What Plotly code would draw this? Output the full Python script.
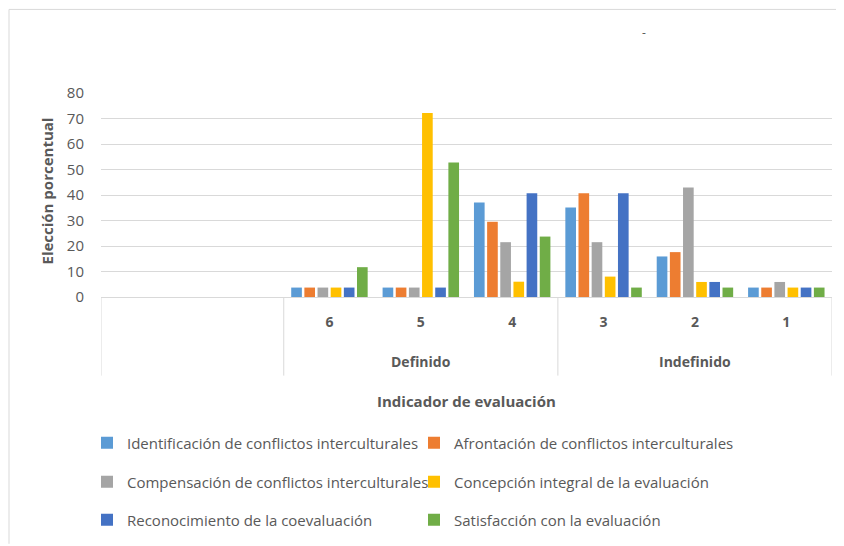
import plotly.graph_objects as go

categories = ["6", "5", "4", "3", "2", "1"]
groups = ["Definido", "Definido", "Definido", "Indefinido", "Indefinido", "Indefinido"]
series_names = [
    "Identificación de conflictos interculturales",
    "Afrontación de conflictos interculturales",
    "Compensación de conflictos interculturales",
    "Concepción integral de la evaluación",
    "Reconocimiento de la coevaluación",
    "Satisfacción con la evaluación",
]
identificacion = [3.7, 3.7, 37.1, 35.1, 15.9, 3.7]
afrontacion = [3.7, 3.7, 29.5, 40.7, 17.6, 3.7]
compensacion = [3.7, 3.7, 21.5, 21.5, 42.9, 5.9]
concepcion = [3.7, 72.2, 6.0, 8.0, 5.9, 3.7]
reconocimiento = [3.7, 3.7, 40.7, 40.7, 5.9, 3.7]
satisfaccion = [11.7, 52.7, 23.7, 3.7, 3.7, 3.7]
series_values = [identificacion, afrontacion, compensacion, concepcion, reconocimiento, satisfaccion]
colors = ["#5B9BD5", "#ED7D31", "#A5A5A5", "#FFC000", "#4472C4", "#70AD47"]
legend_ids = ["legend", "legend", "legend2", "legend2", "legend3", "legend3"]

FONT = "Open Sans"
GRAY = "#595959"
LINE = "#D9D9D9"

fig = go.Figure()
for name, vals, col, lg in zip(series_names, series_values, colors, legend_ids):
    fig.add_trace(go.Bar(x=categories, y=vals, name=name, marker=dict(color=col, line=dict(width=0)),
                         legend=lg))

# page body has an 8px margin; work in page pixels and convert
OFF = 8
W, H = 844 - OFF, 546 - OFF
L = 101 - OFF
T = 93 - OFF
B = H - (298 - OFF)
R = W - (832 - OFF)
pw, ph = W - L - R, H - T - B


def px_x(p):
    return (p - OFF - L) / pw


def px_y(p):
    return (H - B - (p - OFF)) / ph


legend_common = dict(orientation="h", xanchor="left", yanchor="middle", entrywidth=282,
                     font=dict(family=FONT, size=15, color=GRAY), bgcolor="rgba(0,0,0,0)",
                     itemwidth=30, tracegroupgap=0)
fig.update_layout(
    width=W, height=H,
    margin=dict(l=L, r=R, t=T, b=B),
    paper_bgcolor="white", plot_bgcolor="white",
    barmode="group", bargap=0.136, bargroupgap=0.19,
    font=dict(family=FONT, color=GRAY, size=13),
    legend=dict(x=px_x(87), y=px_y(443), **legend_common),
    legend2=dict(x=px_x(87), y=px_y(482), **legend_common),
    legend3=dict(x=px_x(87), y=px_y(520), **legend_common),
    xaxis=dict(type="category", range=[-2.5, len(categories) - 0.5], showgrid=False,
               showline=True, linecolor=LINE, linewidth=1, ticks="",
               tickfont=dict(family=FONT, size=14, color=GRAY, weight="bold"),
               ticklabelstandoff=12, fixedrange=True),
    yaxis=dict(range=[0, 80], dtick=10, showgrid=True, gridcolor=LINE, gridwidth=1,
               zeroline=False, showline=False, ticks="",
               tickfont=dict(family=FONT, size=15, color=GRAY), ticklabelstandoff=16),
    showlegend=True,
)

# group labels and dividers of the multi-level category axis
box_bottom = px_y(377)
uniq = []
for g in groups:
    if g not in uniq:
        uniq.append(g)
for g in uniq:
    idx = [i for i, gg in enumerate(groups) if gg == g]
    fig.add_annotation(x=(idx[0] + idx[-1]) / 2, xref="x", y=px_y(363), yref="paper",
                       text=g, showarrow=False, yanchor="middle",
                       font=dict(family=FONT, size=14, color=GRAY, weight="bold"))
boundaries = [-2.5, -0.5]
for g in uniq:
    idx = [i for i, gg in enumerate(groups) if gg == g]
    boundaries.append(idx[-1] + 0.5)
for bx in boundaries:
    fig.add_shape(type="line", xref="x", yref="paper", x0=bx, x1=bx, y0=0, y1=box_bottom,
                  line=dict(color=LINE, width=1))

fig.add_annotation(x=0.5, xref="paper", y=px_y(403), yref="paper", text="Indicador de evaluación",
                   showarrow=False, yanchor="middle",
                   font=dict(family=FONT, size=15, color=GRAY, weight="bold"))
fig.add_annotation(x=px_x(47), xref="paper", y=px_y(192), yref="paper", text="Elección porcentual",
                   showarrow=False, textangle=-90, xanchor="center", yanchor="middle",
                   font=dict(family=FONT, size=15, color=GRAY, weight="bold"))
fig.add_annotation(x=px_x(648), xref="paper", y=px_y(22), yref="paper", text="-",
                   showarrow=False, font=dict(family=FONT, size=12, color=GRAY))

# outer chart border (left and top edges), as close to the page edge as the figure allows
fig.add_shape(type="line", xref="paper", yref="paper", x0=px_x(9), x1=px_x(9), y0=px_y(9), y1=px_y(546),
              line=dict(color=LINE, width=1))
fig.add_shape(type="line", xref="paper", yref="paper", x0=px_x(9), x1=px_x(844), y0=px_y(9), y1=px_y(9),
              line=dict(color=LINE, width=1))

fig.write_html("out.html")
